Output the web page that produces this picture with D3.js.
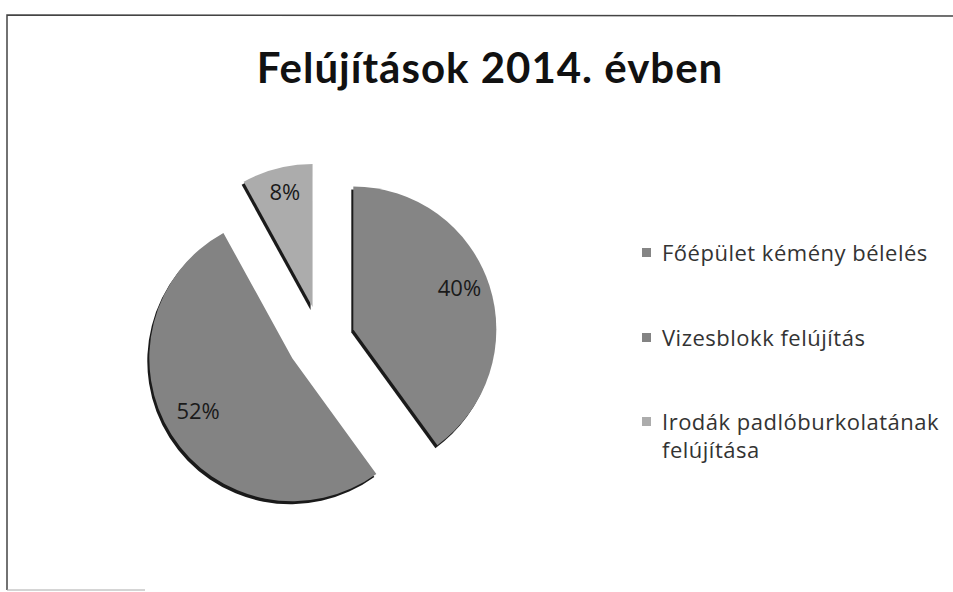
<!DOCTYPE html>
<html>
<head>
<meta charset="utf-8">
<script src="https://cdn.jsdelivr.net/npm/d3@7"></script>
<style>
  body { margin: 0; background: #fff; }
  svg { display: block; }
</style>
</head>
<body>
<div id="chart"></div>
<script>
// data
var categories = ["Főépület kémény bélelés", "Vizesblokk felújítás", "Irodák padlóburkolatának felújítása"];
var shares = [40, 52, 8];
var labels = ["40%", "52%", "8%"];
var legendLines = [["Főépület kémény bélelés"], ["Vizesblokk felújítás"], ["Irodák padlóburkolatának", "felújítása"]];

var width = 953, height = 592;

var svg = d3.select("#chart").append("svg")
  .attr("width", width)
  .attr("height", height);

// scanned frame
svg.append("path")
  .attr("d", "M953,16 L7,15 L7,590")
  .attr("fill", "none")
  .attr("stroke", "#444")
  .attr("stroke-width", 1.5);
svg.append("line")
  .attr("x1", 7).attr("x2", 145)
  .attr("y1", 590).attr("y2", 590)
  .attr("stroke", "#aaa")
  .attr("stroke-width", 1);

// title
svg.append("text")
  .attr("x", 490)
  .attr("y", 83)
  .attr("text-anchor", "middle")
  .attr("font-family", "Lato, 'Open Sans', sans-serif")
  .attr("font-weight", "bold")
  .attr("font-size", 42)
  .attr("letter-spacing", 1)
  .attr("fill", "#111")
  .text("Felújítások 2014. évben");

var color = d3.scaleOrdinal()
  .domain(categories)
  .range(["#858585", "#838383", "#acacac"]);

var radius = 143, explode = 34;
var cx = 321, cy = 340;

var pie = d3.pie().sort(null).value(d => d.v);
var arcs = pie(categories.map((c, i) => ({ c: c, v: shares[i], label: labels[i] })));

var arc = d3.arc().innerRadius(0).outerRadius(radius);
var labelArc = d3.arc().innerRadius(radius * 0.78).outerRadius(radius * 0.78);

function offset(d) {
  var a = (d.startAngle + d.endAngle) / 2;
  return [cx + explode * Math.sin(a), cy - explode * Math.cos(a)];
}

var g = svg.append("g");

// shadow
g.selectAll(".shadow")
  .data(arcs)
  .join("path")
  .attr("class", "shadow")
  .attr("d", arc)
  .attr("fill", "#1a1a1a")
  .attr("transform", d => { var o = offset(d); return `translate(${o[0] - 2},${o[1] + 3})`; });

g.selectAll(".slice")
  .data(arcs)
  .join("path")
  .attr("class", "slice")
  .attr("d", arc)
  .attr("fill", d => color(d.data.c))
  .attr("transform", d => { var o = offset(d); return `translate(${o[0]},${o[1]})`; });

g.selectAll(".lbl")
  .data(arcs)
  .join("text")
  .attr("class", "lbl")
  .attr("transform", d => { var o = offset(d), p = labelArc.centroid(d); return `translate(${o[0] + p[0]},${o[1] + p[1] - 7})`; })
  .attr("text-anchor", "middle")
  .attr("dy", "0.35em")
  .attr("font-family", "'Open Sans', sans-serif")
  .attr("font-size", 22)
  .attr("fill", "#1a1a1a")
  .text(d => d.data.label);

// legend
var legend = svg.append("g").attr("transform", "translate(642,0)");
var rowY = [253, 338, 422];

var item = legend.selectAll(".item")
  .data(categories)
  .join("g")
  .attr("class", "item")
  .attr("transform", (d, i) => `translate(0,${rowY[i]})`);

item.append("rect")
  .attr("x", 0).attr("y", -5)
  .attr("width", 9).attr("height", 9)
  .attr("fill", d => color(d));

item.append("text")
  .attr("font-family", "'Open Sans', sans-serif")
  .attr("font-size", 22)
  .attr("letter-spacing", 0.5)
  .attr("fill", "#333")
  .selectAll("tspan")
  .data((d, i) => legendLines[i])
  .join("tspan")
  .attr("x", 20)
  .attr("dy", (d, j) => j === 0 ? "0.35em" : "28px")
  .text(d => d);
</script>
</body>
</html>
